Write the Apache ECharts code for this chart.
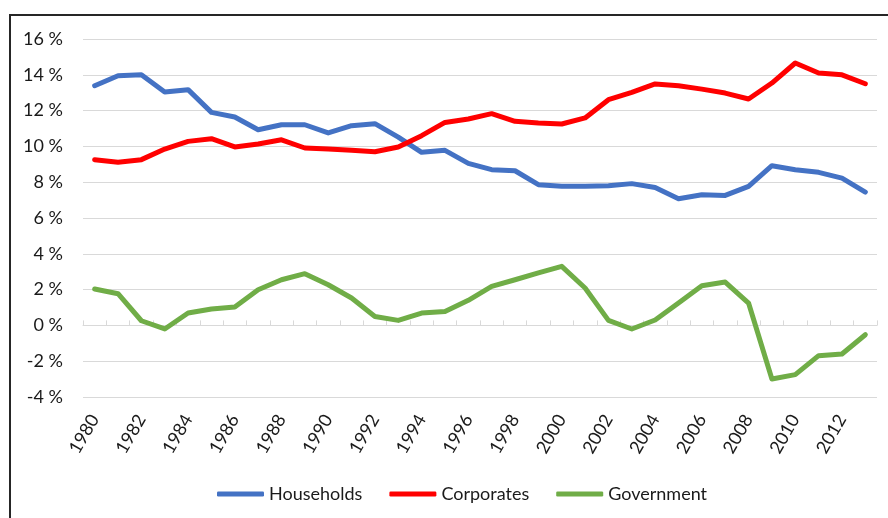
<!DOCTYPE html>
<html>
<head>
<meta charset="utf-8">
<script src="https://cdn.jsdelivr.net/npm/echarts@6/dist/echarts.min.js"></script>
<style>
  html, body { margin: 0; padding: 0; background: #fff; }
  #chart { width: 888px; height: 518px; }
</style>
</head>
<body>
<div id="chart"></div>
<script>
const years = ['1980', '1981', '1982', '1983', '1984', '1985', '1986', '1987', '1988', '1989',
  '1990', '1991', '1992', '1993', '1994', '1995', '1996', '1997', '1998', '1999',
  '2000', '2001', '2002', '2003', '2004', '2005', '2006', '2007', '2008', '2009',
  '2010', '2011', '2012', '2013'];

const households = [13.39, 13.95, 14.0, 13.04, 13.17, 11.9, 11.64, 10.93, 11.21, 11.21,
  10.75, 11.16, 11.27, 10.52, 9.67, 9.78, 9.05, 8.7, 8.64, 7.86,
  7.77, 7.77, 7.8, 7.92, 7.7, 7.08, 7.3, 7.26, 7.77, 8.92,
  8.7, 8.55, 8.23, 7.45];

const corporates = [9.26, 9.11, 9.26, 9.85, 10.28, 10.43, 9.97, 10.13, 10.37, 9.91,
  9.85, 9.78, 9.7, 9.97, 10.6, 11.34, 11.53, 11.83, 11.4, 11.31,
  11.25, 11.59, 12.61, 13.02, 13.49, 13.39, 13.2, 12.98, 12.65, 13.54,
  14.66, 14.1, 14.0, 13.5];

const government = [2.03, 1.77, 0.26, -0.2, 0.69, 0.92, 1.03, 1.99, 2.55, 2.89,
  2.27, 1.53, 0.5, 0.28, 0.69, 0.78, 1.4, 2.18, 2.55, 2.93,
  3.3, 2.09, 0.28, -0.2, 0.3, 1.25, 2.22, 2.42, 1.25, -2.99,
  -2.75, -1.69, -1.6, -0.52];

const yMin = -4;
const yMax = 16;
const yStep = 2;

const textFont = 'Lato';
const textColor = '#1a1a1a';
const gridColor = '#d9d9d9';

const chart = echarts.init(document.getElementById('chart'));

const makeLine = (name, data, color) => ({
  name,
  type: 'line',
  data,
  symbol: 'none',
  smooth: false,
  lineStyle: { width: 5, color, cap: 'round', join: 'round' },
  itemStyle: { color }
});

chart.setOption({
  animation: false,
  graphic: [{
    type: 'rect',
    shape: { x: 10, y: 15, width: 1000, height: 1000 },
    style: { fill: 'none', stroke: '#262626', lineWidth: 2 },
    silent: true
  }],
  grid: { left: 83, right: 11, top: 39, bottom: 121 },
  legend: {
    left: 212,
    top: 480,
    icon: 'roundRect',
    itemWidth: 47,
    itemHeight: 5,
    itemGap: 27,
    textStyle: { fontFamily: textFont, fontSize: 18, color: textColor },
    data: ['Households', 'Corporates', 'Government']
  },
  xAxis: [
    {
      // year labels sit at the bottom of the plot
      type: 'category',
      data: years,
      boundaryGap: true,
      axisLine: { show: false, onZero: false },
      axisTick: { show: false },
      axisLabel: {
        interval: 1,
        rotate: 60,
        margin: 19,
        fontFamily: textFont,
        fontSize: 18,
        color: textColor
      }
    },
    {
      // zero line with small ticks
      type: 'category',
      data: years,
      position: 'bottom',
      boundaryGap: true,
      axisLine: { show: true, onZero: true, lineStyle: { color: gridColor, width: 1 } },
      axisTick: { show: true, inside: true, length: 5, interval: 0, lineStyle: { color: gridColor } },
      axisLabel: { show: false },
      splitLine: { show: false }
    }
  ],
  yAxis: {
    type: 'value',
    min: yMin,
    max: yMax,
    interval: yStep,
    axisLine: { show: false },
    axisTick: { show: false },
    axisLabel: {
      formatter: '{value} %',
      margin: 20,
      fontFamily: textFont,
      fontSize: 18,
      color: textColor
    },
    splitLine: { show: true, lineStyle: { color: gridColor, width: 1 } }
  },
  series: [
    makeLine('Households', households, '#4472c4'),
    makeLine('Corporates', corporates, '#ff0000'),
    makeLine('Government', government, '#70ad47')
  ]
});
</script>
</body>
</html>
